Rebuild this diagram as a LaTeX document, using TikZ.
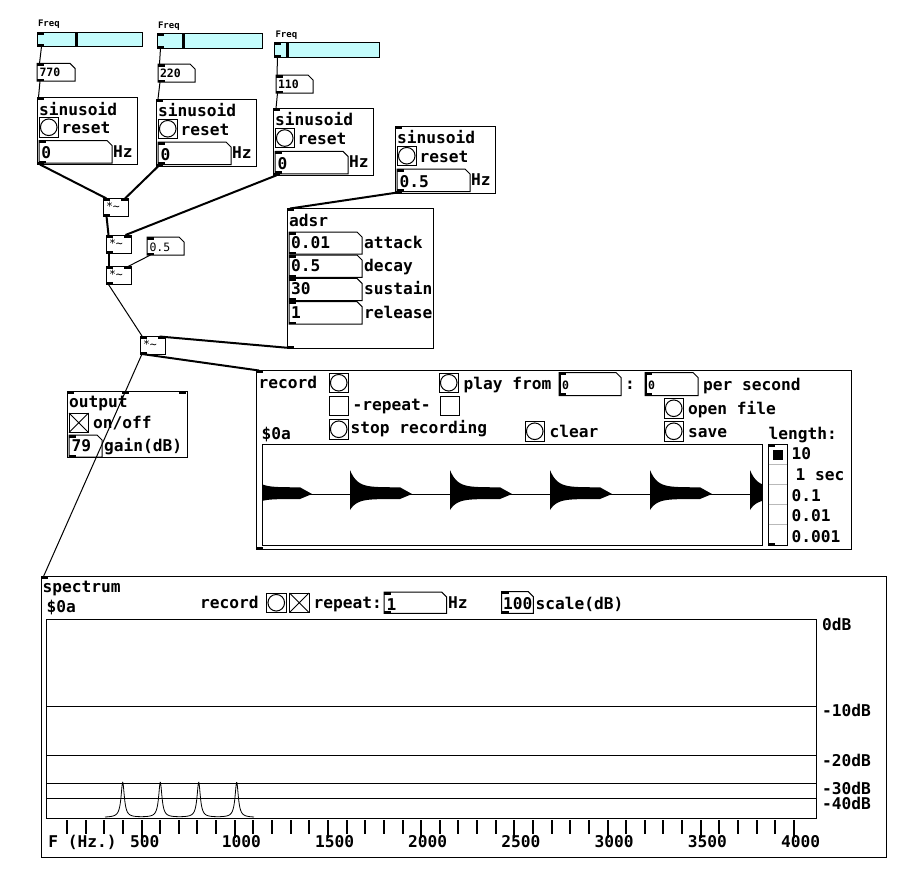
\documentclass[tikz,border=0pt]{standalone}
\usepackage{fontspec}
\newfontfamily\pdmono{DejaVu Sans Mono}
\definecolor{slcyan}{RGB}{196,252,252}
\newcommand\fL{\pdmono\bfseries\fontsize{16.2}{18}\selectfont}
\newcommand\fS{\pdmono\fontsize{11.5}{13}\selectfont}
\newcommand\fSb{\pdmono\bfseries\fontsize{11.5}{13}\selectfont}
\newcommand\fT{\pdmono\bfseries\fontsize{9}{10}\selectfont}
% io mark
\newcommand\iom[2]{\fill (#1,#2) rectangle ++(7,2.5);}
% hslider: name L T W H indicator-x
\newcommand\pdhsl[6]{%
 \node[pdbox, fill=slcyan, minimum width=#4pt, minimum height=#5pt] (#1) at (#2,#3) {};
 \fill (#6-1.5,#3) rectangle (#6+1.5,#3+#5);
 \iom{#2}{#3}\iom{#2}{#3+#5-2.5}}
% bang: name L T
\newcommand\pdbng[3]{%
 \node[pdbox, minimum width=19.5pt, minimum height=19.5pt] (#1) at (#2,#3) {};
 \draw[line width=1pt] (#1.center) circle (8.3pt);}
% toggle off / on
\newcommand\pdtgl[3]{%
 \node[pdbox, minimum width=19.5pt, minimum height=19.5pt] (#1) at (#2,#3) {};}
\newcommand\pdtglx[3]{%
 \node[pdbox, minimum width=19.5pt, minimum height=19.5pt] (#1) at (#2,#3) {};
 \draw[line width=0.8pt] (#1.north west) -- (#1.south east) (#1.north east) -- (#1.south west);}
% number box: name L T R B
\newcommand\pdnbx[5]{%
 \draw[line width=1pt] (#2,#3) -- (#4-5,#3) -- (#4,#3+5) -- (#4,#5) -- (#2,#5) -- cycle;
 \coordinate (#1) at (#2,#3);
 \iom{#2}{#3}\iom{#2}{#5-2.5}}
% *~ box: name L T
\newcommand\pdmul[3]{%
 \node[pdbox, minimum width=25pt, minimum height=18pt] (#1) at (#2,#3) {};
 \iom{#2}{#3}\iom{#2+18}{#3}\iom{#2}{#3+18-2.5}
 \node[sml] (#1t) at (#2+3,#3+12) {*\textasciitilde};}
% sinusoid: name L T value
\newcommand\pdsinus[4]{%
 \node[pdbox, minimum width=100pt, minimum height=67pt] (#1) at (#2,#3) {};
 \iom{#2}{#3}\iom{#2}{#3+67-2.5}
 \node[lbl] (#1t) at (#2+2,#3+17.5) {sinusoid};
 \pdbng{#1b}{#2+2}{#3+20}
 \node[lbl] (#1r) at (#2+24.5,#3+36) {reset};
 \pdnbx{#1n}{#2+2}{#3+43}{#2+75}{#3+65.5}
 \node[lbl] (#1v) at (#2+4.5,#3+61) {#4};
 \node[lbl] (#1h) at (#2+76,#3+59.5) {Hz};}
\begin{document}
\begin{tikzpicture}[x=1pt,y=-1pt,
  pdbox/.style={draw, line width=1pt, inner sep=0pt, outer sep=0pt, anchor=north west},
  lbl/.style={anchor=base west, inner sep=0pt, outer sep=0pt, font=\fL},
  sml/.style={anchor=base west, inner sep=0pt, outer sep=0pt, font=\fS},
  smlb/.style={anchor=base west, inner sep=0pt, outer sep=0pt, font=\fSb},
  tiny/.style={anchor=base west, inner sep=0pt, outer sep=0pt, font=\fT},
  ctl/.style={line width=1pt},
  sig/.style={line width=2pt}]
\useasboundingbox (0,0) rectangle (916,895);
\fill[white] (0,0) rectangle (916,895);

% ---------- sliders ----------
\node[tiny] (fq1) at (38,26.7) {Freq};
\node[tiny] (fq2) at (158,28.3) {Freq};
\node[tiny] (fq3) at (275.5,37.3) {Freq};
\pdhsl{sl1}{37}{32}{105}{14}{76}
\pdhsl{sl2}{157}{33}{105}{15}{183}
\pdhsl{sl3}{274}{42}{105}{15}{287}

% ---------- gatoms ----------
\pdnbx{g1}{37}{63.3}{75}{81}
\node[smlb] (g1t) at (39.5,76.5) {770};
\pdnbx{g2}{158}{64}{195}{82}
\node[smlb] (g2t) at (160,77.2) {220};
\pdnbx{g3}{276}{75}{313}{93}
\node[smlb] (g3t) at (278,88.3) {110};
\pdnbx{g4}{147}{237}{184}{255}
\node[sml] (g4t) at (149.5,251) {0.5};

% ---------- sinusoids ----------
\pdsinus{s1}{37}{97.5}{0}
\pdsinus{s2}{156}{99}{0}
\pdsinus{s3}{273}{108.3}{0}
\pdsinus{s4}{395}{126}{0.5}

% ---------- multipliers ----------
\pdmul{m1}{103}{198.3}
\pdmul{m2}{106}{235}
\pdmul{m3}{106}{266.7}
\pdmul{m4}{140}{336}

% ---------- adsr ----------
\node[pdbox, minimum width=146pt, minimum height=140pt] (adsr) at (287,208.3) {};
\iom{287}{208.3}\iom{287}{348.3-2.5}
\node[lbl] (adsrt) at (289,226.5) {adsr};
\pdnbx{a1}{289}{232}{362}{254}
\node[lbl] (a1v) at (291,248.3) {0.01};
\node[lbl] (a1l) at (364,248.3) {attack};
\pdnbx{a2}{289}{255}{362}{277.3}
\node[lbl] (a2v) at (291,271.5) {0.5};
\node[lbl] (a2l) at (364,271.5) {decay};
\pdnbx{a3}{289}{278.3}{362}{300.7}
\node[lbl] (a3v) at (291,294.8) {30};
\node[lbl] (a3l) at (364,294.8) {sustain};
\pdnbx{a4}{289}{301.7}{362}{324}
\node[lbl] (a4v) at (291,318) {1};
\node[lbl] (a4l) at (364,318) {release};

% ---------- output ----------
\node[pdbox, minimum width=120pt, minimum height=66pt] (outb) at (67,391) {};
\iom{67}{391}\iom{122}{391}\iom{179}{391}
\node[lbl] (outt) at (69,407.5) {output};
\pdtglx{outtg}{69}{413}
\node[lbl] (outo) at (93,428) {on/off};
\pdnbx{outn}{69}{435}{102}{457}
\node[lbl] (outv) at (71.5,451) {79};
\node[lbl] (outg) at (104,451) {gain(dB)};

% ---------- record ----------
\node[pdbox, minimum width=595pt, minimum height=179pt] (rec) at (256,370.5) {};
\iom{256}{370.5}\iom{256}{549.5-2.5}
\node[lbl] (rect) at (258.5,388.3) {record};
\pdbng{rb1}{329}{373}
\pdbng{rb2}{439}{373}
\node[lbl] (rplay) at (463.5,389.5) {play from};
\pdnbx{rn1}{559}{372.5}{621}{395.5}
\fill (559,375) rectangle (561,393);
\node[smlb] (rn1v) at (562,389) {0};
\node[lbl] (rcol) at (625,389) {:};
\pdnbx{rn2}{645}{372.5}{698}{395.5}
\fill (645,375) rectangle (647,393);
\node[smlb] (rn2v) at (648,389) {0};
\node[lbl] (rper) at (703,390) {per second};
\pdtgl{rt1}{329}{396}
\node[lbl] (rrep) at (352.5,410) {-repeat-};
\pdtgl{rt2}{440}{396}
\pdbng{rb3}{664}{398.5}
\node[lbl] (ropen) at (688,414.5) {open file};
\pdbng{rb4}{329}{419.5}
\node[lbl] (rstop) at (350.5,433.5) {stop recording};
\pdbng{rb5}{525}{421.5}
\node[lbl] (rclear) at (549.5,437) {clear};
\pdbng{rb6}{664}{421.5}
\node[lbl] (rsave) at (688,437) {save};
\node[lbl] (rd0a) at (261.5,439.5) {\$0a};
\node[lbl] (rlen) at (768.5,439.5) {length:};
% array
\node[pdbox, minimum width=500pt, minimum height=100.5pt] (arr) at (262,444.5) {};
\begin{scope}
 \clip (262,444.5) rectangle (762,545);
 \draw[line width=0.8pt] (262,494) -- (762,494);
 \foreach \ons in {250,350,450,550,650,750}{
  \fill plot[domain=0:50,samples=40] ({\ons+\x},{494-6.7-17.3*exp(-\x/7)})
   -- ({\ons+62},494)
   -- plot[domain=50:0,samples=40] ({\ons+\x},{494+5+11*exp(-\x/7)}) -- cycle;
 }
\end{scope}
% radio
\node[pdbox, minimum width=19.5pt, minimum height=100.7pt] (rad) at (768,444.3) {};
\foreach \k in {1,...,4}{\draw[line width=0.8pt, gray!55] (768.5,444.3+20.14*\k) -- (787,444.3+20.14*\k);}
\fill (773,449.5) rectangle (783,459.5);
\iom{768}{444.3}\iom{768}{545-2.5}
\node[lbl] (rl1) at (791.5,459) {10};
\node[lbl] (rl2) at (795.5,480) {1 sec};
\node[lbl] (rl3) at (791.5,501) {0.1};
\node[lbl] (rl4) at (791.5,521.7) {0.01};
\node[lbl] (rl5) at (791.5,542.3) {0.001};

% ---------- spectrum ----------
\node[pdbox, minimum width=845pt, minimum height=281pt] (spec) at (41,576.5) {};
\iom{41}{576.5}
\node[lbl] (spt) at (42.5,592) {spectrum};
\node[lbl] (spd) at (46.5,612) {\$0a};
\node[lbl] (sprec) at (200,608) {record};
\pdbng{spb}{266.5}{593}
\pdtglx{sptg}{289.5}{593}
\node[lbl] (sprep) at (313.5,608) {repeat:};
\pdnbx{spn1}{384}{592}{446.7}{613.3}
\node[lbl] (spn1v) at (386.5,610.5) {1};
\node[lbl] (sphz) at (448,608.5) {Hz};
\pdnbx{spn2}{501.7}{591.7}{533.3}{613.3}
\node[lbl] (spn2v) at (503,609.5) {100};
\node[lbl] (spsc) at (535.7,609.3) {scale(dB)};
% graph
\node[pdbox, minimum width=770pt, minimum height=199pt] (gr) at (46,619) {};
\foreach \yy in {706,755,783,798}{\draw[line width=1pt] (46,\yy) -- (816,\yy);}
\node[lbl] (db0) at (822,630) {0dB};
\node[lbl] (db1) at (822,716.7) {-10dB};
\node[lbl] (db2) at (822,766) {-20dB};
\node[lbl] (db3) at (822,794) {-30dB};
\node[lbl] (db4) at (822,809) {-40dB};
% spectrum curve
\draw[line width=0.8pt] plot[domain=105:254,samples=600]
 (\x,{817.5-35/(1+((\x-122.7)/2)*((\x-122.7)/2))-35/(1+((\x-160.3)/2)*((\x-160.3)/2))-35/(1+((\x-198.7)/2)*((\x-198.7)/2))-35/(1+((\x-236.7)/2)*((\x-236.7)/2))});
% ticks
\foreach \i in {0,...,39}{
 \pgfmathsetmacro\tx{67+18.64*\i}
 \pgfmathtruncatemacro\ismaj{mod(\i,5)==4 ? 1 : 0}
 \ifnum\ismaj=1
  \draw[line width=2pt] (\tx,820) -- (\tx,838);
 \else
  \draw[line width=2pt] (\tx,820) -- (\tx,834);
 \fi
}
\node[lbl] (xf) at (48.3,847.5) {F (Hz.)};
\node[lbl] (x500) at (130,847.5) {500};
\node[lbl] (x1000) at (221.8,847.5) {1000};
\node[lbl] (x1500) at (315,847.5) {1500};
\node[lbl] (x2000) at (408.2,847.5) {2000};
\node[lbl] (x2500) at (501.4,847.5) {2500};
\node[lbl] (x3000) at (594.6,847.5) {3000};
\node[lbl] (x3500) at (687.8,847.5) {3500};
\node[lbl] (x4000) at (781,847.5) {4000};

% ---------- ports ----------
\coordinate (sl1o) at (41.5,46.5);  \coordinate (g1i) at (39.5,63.5);
\coordinate (g1o) at (40,81);       \coordinate (s1i) at (38.5,97.5);
\coordinate (sl2o) at (160.5,48);   \coordinate (g2i) at (159.5,64);
\coordinate (g2o) at (160,82);      \coordinate (s2i) at (158,99);
\coordinate (sl3o) at (277.5,57);   \coordinate (g3i) at (277,75);
\coordinate (g3o) at (277.5,93);    \coordinate (s3i) at (276,108.5);
\coordinate (s1o) at (40,164.5);    \coordinate (m1a) at (106.5,198.5);
\coordinate (s2o) at (160,164.5);   \coordinate (m1b) at (125,198.5);
\coordinate (m1o) at (106.5,216);   \coordinate (m2a) at (108.5,235);
\coordinate (s3o) at (276.5,175.3); \coordinate (m2b) at (125.5,235);
\coordinate (m2o) at (108.5,253);   \coordinate (m3a) at (108.5,267);
\coordinate (g4o) at (150.5,255);   \coordinate (m3b) at (127,267);
\coordinate (m3o) at (108.5,284.5); \coordinate (m4a) at (142,336);
\coordinate (s4o) at (397.5,192.5); \coordinate (ai) at (290,208.5);
\coordinate (ao) at (290,348);      \coordinate (m4b) at (159.5,336.5);
\coordinate (m4o) at (142,354);     \coordinate (ri) at (259,370.5);
\coordinate (spi) at (43.5,576.5);

% ---------- connections ----------
\draw[ctl] (sl1o) -- (g1i);  \draw[ctl] (g1o) -- (s1i);
\draw[ctl] (sl2o) -- (g2i);  \draw[ctl] (g2o) -- (s2i);
\draw[ctl] (sl3o) -- (g3i);  \draw[ctl] (g3o) -- (s3i);
\draw[sig] (s1o) -- (m1a);
\draw[sig] (s2o) -- (m1b);
\draw[sig] (m1o) -- (m2a);
\draw[sig] (s3o) -- (m2b);
\draw[sig] (m2o) -- (m3a);
\draw[ctl] (g4o) -- (m3b);
\draw[ctl] (m3o) -- (m4a);
\draw[sig] (s4o) -- (ai);
\draw[sig] (ao) -- (m4b);
\draw[sig] (m4o) -- (ri);
\draw[ctl] (m4o) -- (spi);
\end{tikzpicture}
\end{document}
